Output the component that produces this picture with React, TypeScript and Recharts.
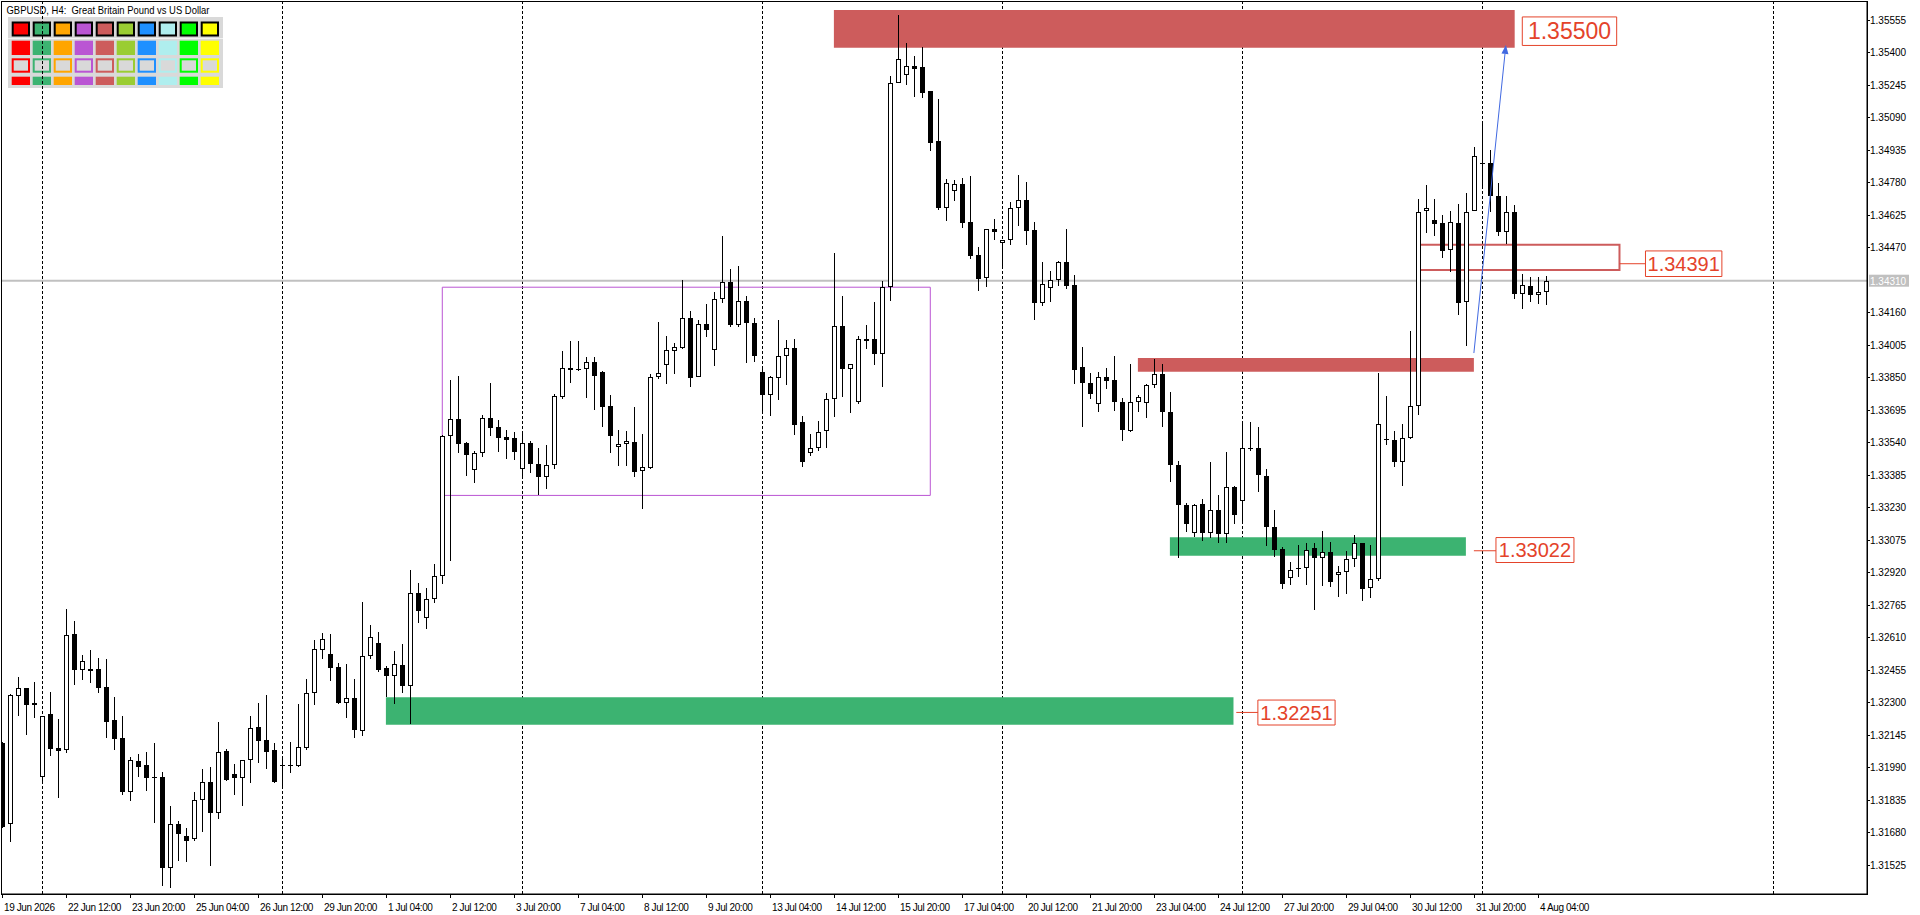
import React from 'react';
import { ComposedChart, Bar, XAxis, YAxis, ReferenceArea, ReferenceLine, CartesianGrid } from 'recharts';

const opens = [
  1.32103, 1.31717, 1.32331, 1.32366, 1.32294, 1.31944, 1.32243, 1.32079, 1.32070, 1.32625,
  1.32452, 1.32458, 1.32458, 1.32372, 1.32215, 1.32129, 1.31873, 1.32019, 1.32000, 1.31941,
  1.31941, 1.31510, 1.31717, 1.31664, 1.31645, 1.31831, 1.31917, 1.31769, 1.32065, 1.31957,
  1.31940, 1.32022, 1.32181, 1.32119, 1.32072, 1.32000, 1.31998, 1.31997, 1.32083, 1.32342,
  1.32550, 1.32528, 1.32467, 1.32294, 1.32318, 1.32161, 1.32518, 1.32580, 1.32461, 1.32423,
  1.32477, 1.32378, 1.32819, 1.32703, 1.32790, 1.32900, 1.33571, 1.33649, 1.33534, 1.33406,
  1.33487, 1.33654, 1.33611, 1.33563, 1.33558, 1.33414, 1.33534, 1.33434, 1.33375, 1.33429,
  1.33757, 1.33892, 1.33887, 1.33887, 1.33921, 1.33873, 1.33712, 1.33515, 1.33530, 1.33541,
  1.33401, 1.33415, 1.33849, 1.33910, 1.33976, 1.33991, 1.34132, 1.33852, 1.34102, 1.33978,
  1.34221, 1.34302, 1.34100, 1.34212, 1.34107, 1.33873, 1.33763, 1.33844, 1.33949, 1.33990,
  1.33634, 1.33488, 1.33512, 1.33593, 1.33747, 1.34092, 1.33890, 1.33731, 1.34030, 1.34030,
  1.33960, 1.34279, 1.35254, 1.35292, 1.35335, 1.35327, 1.35213, 1.34974, 1.34658, 1.34739,
  1.34769, 1.34588, 1.34431, 1.34322, 1.34558, 1.34491, 1.34505, 1.34658, 1.34693, 1.34550,
  1.34205, 1.34276, 1.34314, 1.34401, 1.34291, 1.33900, 1.33822, 1.33722, 1.33850, 1.33836,
  1.33731, 1.33591, 1.33730, 1.33725, 1.33812, 1.33865, 1.33684, 1.33431, 1.33240, 1.33105,
  1.33245, 1.33105, 1.33216, 1.33100, 1.33326, 1.33257, 1.33512, 1.33512, 1.33378, 1.33135,
  1.33032, 1.32890, 1.32941, 1.32939, 1.33035, 1.32987, 1.33016, 1.32906, 1.32919, 1.32982,
  1.33059, 1.32844, 1.32887, 1.33555, 1.33550, 1.33444, 1.33558, 1.33712, 1.34642, 1.34601,
  1.34585, 1.34456, 1.34585, 1.34207, 1.34642, 1.34870, 1.34871, 1.34716, 1.34541, 1.34638,
  1.34245, 1.34286, 1.34242, 1.34256,
];

const highs = [
  1.32111, 1.32337, 1.32418, 1.32369, 1.32394, 1.32235, 1.32348, 1.32219, 1.32744, 1.32687,
  1.32525, 1.32549, 1.32510, 1.32506, 1.32323, 1.32232, 1.32038, 1.32052, 1.32062, 1.32105,
  1.31967, 1.31804, 1.31733, 1.31699, 1.31871, 1.31981, 1.31990, 1.32205, 1.32076, 1.32006,
  1.32025, 1.32234, 1.32296, 1.32334, 1.32103, 1.32032, 1.32108, 1.32291, 1.32410, 1.32596,
  1.32628, 1.32623, 1.32485, 1.32482, 1.32410, 1.32776, 1.32666, 1.32633, 1.32472, 1.32544,
  1.32576, 1.32930, 1.32867, 1.32843, 1.32959, 1.33574, 1.33836, 1.33856, 1.33539, 1.33498,
  1.33669, 1.33821, 1.33644, 1.33598, 1.33588, 1.33579, 1.33545, 1.33510, 1.33526, 1.33770,
  1.33975, 1.34022, 1.34022, 1.33946, 1.33946, 1.33878, 1.33765, 1.33598, 1.33592, 1.33708,
  1.33579, 1.33865, 1.34113, 1.34046, 1.34013, 1.34313, 1.34166, 1.34123, 1.34199, 1.34258,
  1.34523, 1.34364, 1.34380, 1.34236, 1.34131, 1.33900, 1.33857, 1.34123, 1.34026, 1.34030,
  1.33667, 1.33577, 1.33643, 1.33774, 1.34442, 1.34235, 1.33914, 1.34044, 1.34097, 1.34208,
  1.34307, 1.35286, 1.35575, 1.35442, 1.35380, 1.35423, 1.35213, 1.35175, 1.34793, 1.34788,
  1.34798, 1.34807, 1.34469, 1.34558, 1.34602, 1.34505, 1.34683, 1.34812, 1.34783, 1.34588,
  1.34397, 1.34354, 1.34405, 1.34556, 1.34337, 1.33995, 1.33870, 1.33876, 1.33893, 1.33952,
  1.33750, 1.33912, 1.33765, 1.33817, 1.33936, 1.33912, 1.33781, 1.33450, 1.33249, 1.33245,
  1.33269, 1.33445, 1.33288, 1.33493, 1.33332, 1.33631, 1.33637, 1.33614, 1.33412, 1.33216,
  1.33038, 1.32970, 1.33049, 1.33059, 1.33059, 1.33118, 1.33065, 1.32951, 1.33022, 1.33097,
  1.33059, 1.33051, 1.33871, 1.33762, 1.33595, 1.33626, 1.34072, 1.34700, 1.34768, 1.34700,
  1.34623, 1.34644, 1.34676, 1.34730, 1.34946, 1.35062, 1.34933, 1.34778, 1.34716, 1.34673,
  1.34342, 1.34329, 1.34329, 1.34334,
];

const lows = [
  1.31698, 1.31634, 1.32234, 1.32143, 1.32226, 1.31913, 1.32044, 1.31844, 1.32059, 1.32383,
  1.32407, 1.32393, 1.32345, 1.32130, 1.32073, 1.31858, 1.31830, 1.31944, 1.31876, 1.31725,
  1.31424, 1.31412, 1.31542, 1.31539, 1.31636, 1.31680, 1.31518, 1.31744, 1.31925, 1.31858,
  1.31804, 1.31914, 1.32011, 1.31981, 1.31916, 1.31897, 1.31963, 1.31992, 1.32072, 1.32286,
  1.32506, 1.32401, 1.32291, 1.32224, 1.32130, 1.32140, 1.32506, 1.32442, 1.32323, 1.32291,
  1.32345, 1.32196, 1.32679, 1.32650, 1.32774, 1.32863, 1.32973, 1.33490, 1.33380, 1.33347,
  1.33471, 1.33571, 1.33495, 1.33460, 1.33456, 1.33367, 1.33391, 1.33288, 1.33315, 1.33414,
  1.33747, 1.33824, 1.33881, 1.33752, 1.33693, 1.33614, 1.33490, 1.33428, 1.33428, 1.33375,
  1.33223, 1.33414, 1.33843, 1.33819, 1.33865, 1.33983, 1.33805, 1.33849, 1.34043, 1.33903,
  1.34202, 1.34088, 1.34091, 1.33919, 1.33924, 1.33681, 1.33666, 1.33743, 1.33814, 1.33572,
  1.33421, 1.33473, 1.33500, 1.33512, 1.33659, 1.33755, 1.33680, 1.33723, 1.33985, 1.33909,
  1.33802, 1.34213, 1.35253, 1.35245, 1.35186, 1.35183, 1.34928, 1.34647, 1.34596, 1.34691,
  1.34561, 1.34415, 1.34262, 1.34279, 1.34505, 1.34367, 1.34480, 1.34570, 1.34480, 1.34124,
  1.34190, 1.34210, 1.34287, 1.34270, 1.33816, 1.33610, 1.33746, 1.33682, 1.33792, 1.33690,
  1.33544, 1.33587, 1.33682, 1.33655, 1.33798, 1.33610, 1.33348, 1.32987, 1.33110, 1.33090,
  1.33067, 1.33081, 1.33057, 1.33057, 1.33152, 1.33162, 1.33496, 1.33304, 1.33043, 1.32990,
  1.32842, 1.32858, 1.32895, 1.32858, 1.32739, 1.32855, 1.32850, 1.32803, 1.32815, 1.32946,
  1.32784, 1.32796, 1.32879, 1.33526, 1.33420, 1.33329, 1.33555, 1.33668, 1.34536, 1.34525,
  1.34417, 1.34350, 1.34146, 1.33997, 1.34641, 1.34755, 1.34636, 1.34525, 1.34485, 1.34221,
  1.34173, 1.34207, 1.34197, 1.34192,
];

const closes = [
  1.31706, 1.32334, 1.32366, 1.32288, 1.32288, 1.32232, 1.32078, 1.32068, 1.32619, 1.32452,
  1.32496, 1.32450, 1.32369, 1.32207, 1.32126, 1.31873, 1.32022, 1.31992, 1.31940, 1.31940,
  1.31510, 1.31717, 1.31669, 1.31639, 1.31831, 1.31917, 1.31773, 1.32060, 1.31928, 1.31940,
  1.32022, 1.32175, 1.32116, 1.32064, 1.31920, 1.31997, 1.32000, 1.32084, 1.32342, 1.32552,
  1.32599, 1.32464, 1.32297, 1.32318, 1.32167, 1.32518, 1.32609, 1.32453, 1.32426, 1.32480,
  1.32378, 1.32819, 1.32736, 1.32790, 1.32900, 1.33571, 1.33649, 1.33533, 1.33480, 1.33487,
  1.33654, 1.33609, 1.33561, 1.33552, 1.33495, 1.33534, 1.33434, 1.33375, 1.33429, 1.33760,
  1.33892, 1.33883, 1.33883, 1.33921, 1.33857, 1.33709, 1.33571, 1.33530, 1.33544, 1.33399,
  1.33420, 1.33851, 1.33868, 1.33978, 1.33994, 1.34131, 1.33848, 1.34102, 1.34077, 1.34221,
  1.34302, 1.34100, 1.34212, 1.34107, 1.33953, 1.33763, 1.33851, 1.33949, 1.33989, 1.33624,
  1.33445, 1.33513, 1.33589, 1.33747, 1.34092, 1.33890, 1.33911, 1.34030, 1.34024, 1.33960,
  1.34279, 1.35254, 1.35369, 1.35335, 1.35321, 1.35205, 1.34966, 1.34656, 1.34777, 1.34769,
  1.34585, 1.34427, 1.34318, 1.34558, 1.34542, 1.34505, 1.34659, 1.34696, 1.34547, 1.34205,
  1.34295, 1.34314, 1.34400, 1.34283, 1.33885, 1.33820, 1.33768, 1.33850, 1.33830, 1.33730,
  1.33596, 1.33731, 1.33755, 1.33812, 1.33865, 1.33682, 1.33429, 1.33238, 1.33152, 1.33240,
  1.33105, 1.33216, 1.33100, 1.33326, 1.33191, 1.33512, 1.33513, 1.33381, 1.33133, 1.33028,
  1.32862, 1.32930, 1.32935, 1.33025, 1.32987, 1.33014, 1.32871, 1.32920, 1.32982, 1.33057,
  1.32842, 1.32887, 1.33626, 1.33549, 1.33444, 1.33560, 1.33712, 1.34638, 1.34657, 1.34579,
  1.34450, 1.34590, 1.34202, 1.34638, 1.34905, 1.34868, 1.34712, 1.34541, 1.34638, 1.34245,
  1.34291, 1.34240, 1.34256, 1.34309,
];

const xTickBars = [0, 8, 16, 24, 32, 40, 48, 56, 64, 72, 80, 88, 96, 104, 112, 120, 128, 136, 144, 152, 160, 168, 176, 184, 192];
const xTickLabels = [
  '19 Jun 2026', '22 Jun 12:00', '23 Jun 20:00', '25 Jun 04:00', '26 Jun 12:00', '29 Jun 20:00',
  '1 Jul 04:00', '2 Jul 12:00', '3 Jul 20:00', '7 Jul 04:00', '8 Jul 12:00', '9 Jul 20:00',
  '13 Jul 04:00', '14 Jul 12:00', '15 Jul 20:00', '17 Jul 04:00', '20 Jul 12:00', '21 Jul 20:00',
  '23 Jul 04:00', '24 Jul 12:00', '27 Jul 20:00', '29 Jul 04:00', '30 Jul 12:00', '31 Jul 20:00',
  '4 Aug 04:00',
];
const priceTicks = [
  1.35555, 1.354, 1.35245, 1.3509, 1.34935, 1.3478, 1.34625, 1.3447, 1.3431, 1.3416, 1.34005,
  1.3385, 1.33695, 1.3354, 1.33385, 1.3323, 1.33075, 1.3292, 1.32765, 1.3261, 1.32455, 1.323,
  1.32145, 1.3199, 1.31835, 1.3168, 1.31525,
];
const currentPrice = 1.3431;
const gridBars = [5, 35, 65, 95, 125, 155, 185, 221.4];

const zoneBars = [[103.9, 189.0], [141.9, 183.9], [145.9, 182.9], [47.9, 153.85]];
const zonePrices = [[1.35421, 1.35601], [1.33876, 1.33941], [1.32998, 1.33087], [1.32192, 1.32323]];
const zoneKinds = ['supply', 'supply', 'demand', 'demand'];

const rangeBoxBars = [54.95, 115.95];
const rangeBoxPrices = [1.33286, 1.34279];
const levelBoxBars = [176.9, 202.1];
const levelBoxPrices = [1.34361, 1.34482];

const labelTexts = ['1.35500', '1.34391', '1.33022', '1.32251'];
const labelLevels = [1.355, 1.34391, 1.33022, 1.32251];
const labelBars = [[189.95, 201.75], [205.35, 214.9], [186.66, 196.41], [156.9, 166.55]];
const labelPrices = [[1.35432, 1.35568], [1.3433, 1.34452], [1.32966, 1.33085], [1.32191, 1.3231]];
const leaderFromBars = [null, 202.1, 183.9, 154.2];

const arrowBars = [183.9, 187.9];
const arrowPrices = [1.33965, 1.35434];

const paletteColors = ['#FF0000', '#3CB371', '#FFA500', '#BA55D3', '#CD5C5C', '#9ACD32', '#1E90FF', '#AFEEEE', '#00FF00', '#FFFF00'];

const X_DOMAIN: [number, number] = [-0.2125, 233.04];
const Y_DOMAIN: [number, number] = [1.31385, 1.35644];

const SUPPLY = '#CD5C5C';
const DEMAND = '#3CB371';
const RANGE = '#BA55D3';
const LABEL = '#E4432A';
const ARROW = '#4169E1';
const FONT = '"Liberation Sans", Arial, sans-serif';

const data = opens.map((o, i) => ({
  i,
  open: o,
  high: highs[i],
  low: lows[i],
  close: closes[i],
  range: [lows[i], highs[i]],
}));

const Candle = (props: any) => {
  const { x, y, width, height, payload } = props;
  if (x == null || y == null || !payload) return null;
  const top = height >= 0 ? y : y + height;
  const h = Math.abs(height);
  const { open, close, high, low } = payload;
  const k = high - low > 0 ? h / (high - low) : 0;
  const yO = top + (high - open) * k;
  const yC = top + (high - close) * k;
  const cx = Math.floor(x + width / 2) + 0.5;
  const bTop = Math.round(Math.min(yO, yC));
  const bBot = Math.round(Math.max(yO, yC));
  const bull = close > open;
  let body;
  if (bBot - bTop < 1) {
    body = <line x1={cx - 2.5} x2={cx + 2.5} y1={bTop + 0.5} y2={bTop + 0.5} stroke="#000" strokeWidth={1} />;
  } else if (bull) {
    body = <rect x={cx - 2} y={bTop + 0.5} width={4} height={Math.max(bBot - bTop - 1, 0)} fill="#fff" stroke="#000" strokeWidth={1} />;
  } else {
    body = <rect x={cx - 2.5} y={bTop} width={5} height={bBot - bTop} fill="#000" />;
  }
  return (
    <g>
      <line x1={cx} x2={cx} y1={Math.round(top)} y2={Math.round(top + h)} stroke="#000" strokeWidth={1} />
      {body}
    </g>
  );
};

const XTick = (p: any) => {
  const { x, y, payload } = p;
  const idx = xTickBars.indexOf(payload.value);
  const px = Math.floor(x) + 0.5;
  return (
    <g>
      <line x1={px} x2={px} y1={y} y2={y + 4} stroke="#000" strokeWidth={1} />
      <text x={px + 1.5} y={y + 16.5} fontSize={10} letterSpacing={-0.4} fontFamily={FONT} fill="#000">
        {idx >= 0 ? xTickLabels[idx] : ''}
      </text>
    </g>
  );
};

const YTick = (p: any) => {
  const { x, y, payload } = p;
  const v = payload.value as number;
  if (Math.abs(v - currentPrice) < 1e-7) {
    return (
      <g>
        <rect x={x + 2} y={y - 6} width={40} height={12} fill="#c0c0c0" />
        <text x={x + 3} y={y + 4} fontSize={10} fontFamily={FONT} fill="#fff">{v.toFixed(5)}</text>
      </g>
    );
  }
  return (
    <g>
      <line x1={x} x2={x + 3} y1={Math.round(y) + 0.5} y2={Math.round(y) + 0.5} stroke="#000" strokeWidth={1} />
      <text x={x + 3} y={y + 4} fontSize={10} fontFamily={FONT} fill="#000">{v.toFixed(5)}</text>
    </g>
  );
};

const mapX = (v: number, args: any) => {
  const ax = args && args.xAxis;
  if (ax && typeof ax.scale === 'function') return ax.scale(v);
  const off = args.offset;
  return off.left + ((v - X_DOMAIN[0]) / (X_DOMAIN[1] - X_DOMAIN[0])) * off.width;
};
const mapY = (v: number, args: any) => {
  const ax = args && args.yAxis;
  if (ax && typeof ax.scale === 'function') return ax.scale(v);
  const off = args.offset;
  return off.top + ((Y_DOMAIN[1] - v) / (Y_DOMAIN[1] - Y_DOMAIN[0])) * off.height;
};

const FrameShape = (p: any) => (
  <rect x={Math.round(p.x) + 0.5} y={Math.round(p.y) + 0.5} width={Math.round(p.width)} height={Math.round(p.height)} fill="none" stroke="#000" strokeWidth={1} />
);

const ArrowShape = (p: any) => {
  const { x1, y1, x2, y2 } = p;
  if (x1 == null) return null;
  const ang = Math.atan2(y2 - y1, x2 - x1);
  const L = 9;
  const W = 3.5;
  const bx = x2 - L * Math.cos(ang);
  const by = y2 - L * Math.sin(ang);
  const ox = -Math.sin(ang) * W;
  const oy = Math.cos(ang) * W;
  return (
    <g>
      <line x1={x1} y1={y1} x2={bx} y2={by} stroke={ARROW} strokeWidth={1} />
      <polygon points={`${x2},${y2} ${bx + ox},${by + oy} ${bx - ox},${by - oy}`} fill={ARROW} />
    </g>
  );
};

const Palette = () => {
  const cols = paletteColors.map((c, k) => ({ c, x: 11.7 + 21 * k }));
  return (
    <svg width={232} height={92} style={{ position: 'absolute', left: 0, top: 0 }}>
      <text x={6.5} y={13.5} fontSize={10.6} fontFamily={FONT} fill="#000" textLength={203} lengthAdjust="spacingAndGlyphs" style={{ whiteSpace: 'pre' }}>
        {'GBPUSD, H4:  Great Britain Pound vs US Dollar'}
      </text>
      <rect x={8} y={17} width={215} height={71} fill="#d9d9d9" />
      <line x1={8} x2={223} y1={38.5} y2={38.5} stroke="#f2f2f2" strokeWidth={1} />
      {cols.map(({ c, x }) => (
        <g key={c}>
          <rect x={x + 1} y={22.5} width={16.3} height={13} fill={c} stroke="#000" strokeWidth={2} />
          <rect x={x} y={40.7} width={18.3} height={14.3} fill={c} />
          <rect x={x + 1} y={59.3} width={16.3} height={12.4} fill="#d9d9d9" stroke={c} strokeWidth={2} />
          <rect x={x} y={76.7} width={18.3} height={8.3} fill={c} />
        </g>
      ))}
    </svg>
  );
};

export default function App() {
  return (
    <div style={{ position: 'absolute', left: 0, top: 0, width: 1920, height: 915, background: '#fff', overflow: 'hidden' }}>
      <Palette />
      <div style={{ position: 'absolute', left: 0, top: 0 }}>
        <ComposedChart width={1920} height={915} data={data} margin={{ top: 1, left: 1, right: 0, bottom: 0 }}>
          <CartesianGrid
            horizontal={false}
            vertical
            stroke="#000"
            strokeWidth={1}
            strokeDasharray="3 2"
            verticalCoordinatesGenerator={(args: any) => gridBars.map((g) => Math.floor(mapX(g, args)) + 0.5)}
          />
          <CartesianGrid
            vertical={false}
            horizontal
            stroke="#c0c0c0"
            strokeWidth={2}
            horizontalCoordinatesGenerator={(args: any) => [mapY(currentPrice, args)]}
          />
          <XAxis
            dataKey="i"
            type="number"
            domain={X_DOMAIN}
            allowDataOverflow
            ticks={xTickBars}
            interval={0}
            tickSize={0}
            tickMargin={0}
            height={21}
            axisLine={{ stroke: '#000' }}
            tickLine={false}
            tick={(p: any) => <XTick {...p} />}
          />
          <YAxis
            orientation="right"
            type="number"
            domain={Y_DOMAIN}
            allowDataOverflow
            ticks={priceTicks}
            interval={0}
            tickSize={0}
            tickMargin={0}
            width={53}
            axisLine={{ stroke: '#000' }}
            tickLine={false}
            tick={(p: any) => <YTick {...p} />}
          />
          {zoneBars.map((b, k) => (
            <ReferenceArea
              key={'z' + k}
              x1={b[0]}
              x2={b[1]}
              y1={zonePrices[k][0]}
              y2={zonePrices[k][1]}
              fill={zoneKinds[k] === 'supply' ? SUPPLY : DEMAND}
              fillOpacity={1}
              stroke="none"
              ifOverflow="visible"
            />
          ))}
          <ReferenceArea
            x1={rangeBoxBars[0]}
            x2={rangeBoxBars[1]}
            y1={rangeBoxPrices[0]}
            y2={rangeBoxPrices[1]}
            fill="none"
            stroke={RANGE}
            strokeWidth={1}
            ifOverflow="visible"
          />
          <ReferenceArea
            x1={levelBoxBars[0]}
            x2={levelBoxBars[1]}
            y1={levelBoxPrices[0]}
            y2={levelBoxPrices[1]}
            fill="none"
            stroke={SUPPLY}
            strokeWidth={2}
            ifOverflow="visible"
          />
          <Bar dataKey="range" barSize={5} isAnimationActive={false} shape={(p: any) => <Candle {...p} />} />
          {labelTexts.map((t, k) => (
            <ReferenceArea
              key={'l' + k}
              x1={labelBars[k][0]}
              x2={labelBars[k][1]}
              y1={labelPrices[k][0]}
              y2={labelPrices[k][1]}
              fill="#fff"
              fillOpacity={1}
              stroke={LABEL}
              strokeWidth={1}
              ifOverflow="visible"
              label={{ value: t, position: 'center', fill: LABEL, fontSize: k === 0 ? 23 : 20, fontFamily: FONT }}
            />
          ))}
          {leaderFromBars.map((f, k) =>
            f == null ? null : (
              <ReferenceLine
                key={'ld' + k}
                segment={[{ x: f, y: labelLevels[k] }, { x: labelBars[k][0], y: labelLevels[k] }]}
                stroke={LABEL}
                strokeWidth={1}
                ifOverflow="visible"
              />
            )
          )}
          <ReferenceLine
            segment={[{ x: arrowBars[0], y: arrowPrices[0] }, { x: arrowBars[1], y: arrowPrices[1] }]}
            stroke={ARROW}
            ifOverflow="visible"
            shape={(p: any) => <ArrowShape {...p} />}
          />
          <ReferenceArea
            x1={X_DOMAIN[0]}
            x2={X_DOMAIN[1]}
            y1={Y_DOMAIN[0]}
            y2={Y_DOMAIN[1]}
            fill="none"
            ifOverflow="visible"
            shape={(p: any) => <FrameShape {...p} />}
          />
        </ComposedChart>
      </div>
    </div>
  );
}
